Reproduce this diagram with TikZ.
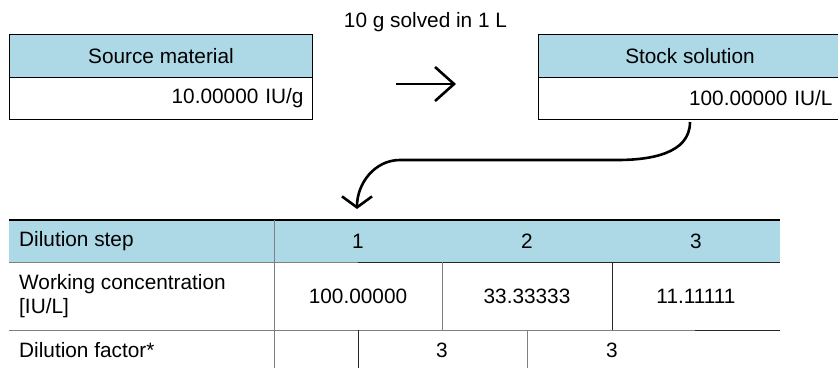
\documentclass[tikz,border=0pt]{standalone}
\usepackage{fontspec}
\setmainfont{Liberation Sans}
\usetikzlibrary{arrows.meta}
\definecolor{hdrblue}{RGB}{173,216,230}
\definecolor{linegray}{RGB}{128,128,128}
\tikzset{
  txt/.style={inner sep=0pt, font=\fontsize{20.8}{24}\selectfont},
  hdrbox/.style={draw=black, line width=1pt, fill=hdrblue, minimum width=303pt, minimum height=43pt, anchor=north west, inner sep=0pt, font=\fontsize{20.8}{24}\selectfont},
  valbox/.style={draw=black, line width=1pt, fill=white, minimum width=303pt, minimum height=42pt, text width=285pt, align=right, anchor=north west, inner sep=0pt, font=\fontsize{20.8}{24}\selectfont},
  glyph/.style={line width=2.6pt, -{Straight Barb[length=19pt,width=34pt]}},
  conn/.style={line width=2.6pt, -{Straight Barb[length=11pt,width=30pt]}},
  grid/.style={line width=1pt, draw=linegray},
  dgrid/.style={line width=1pt, draw=black!85},
}
\begin{document}
\begin{tikzpicture}[x=1pt,y=-1pt]
\useasboundingbox (0,0) rectangle (838,368);
\fill[white] (0,0) rectangle (838,368);
% title
\node[txt] (title) at (425.5,22) {10 g solved in 1 L};
% source material box
\node[hdrbox] (srcH) at (9,34) {Source material};
\node[valbox] (srcV) at (9,77) {10.00000 IU/g};
% stock solution box
\node[hdrbox] (stkH) at (538,34) {Stock solution};
\node[valbox] (stkV) at (538,77) {100.00000 IU/L};
% arrow glyph
\coordinate (arL) at (396,84);
\coordinate (arR) at (456,84);
\draw[glyph] (arL) -- (arR);
% curved arrow
\coordinate (c1) at (690,122);
\coordinate (c2) at (357,209);
\draw[conn] (c1) to[out=-90,in=0] (617,160) -- (400,160) to[out=180,in=90] (c2);
% table
\fill[hdrblue] (9,220) rectangle (780,262);
\draw[line width=1.2pt] (9,220) -- (780,220);
\draw[grid] (9,262) -- (358,262);
\draw[dgrid] (358,262) -- (780,262);
\draw[grid] (9,330) -- (695,330);
\draw[dgrid] (695,330) -- (780,330);
\draw[grid] (274,220) -- (274,368);
\draw[grid] (442,262) -- (442,330);
\draw[dgrid] (612,262) -- (612,330);
\draw[dgrid] (358,330) -- (358,368);
\draw[grid] (527,330) -- (527,368);
% table text
\node[txt, anchor=west] (tL1) at (19,241) {Dilution step};
\node[txt, anchor=west, align=left] (tL2) at (19,296) {Working concentration\\\relax [IU/L]};
\node[txt, anchor=west] (tL3) at (19,350) {Dilution factor*};
\node[txt] (h1) at (358,241) {1};
\node[txt] (h2) at (527,241) {2};
\node[txt] (h3) at (696,241) {3};
\node[txt] (w1) at (358,296) {100.00000};
\node[txt] (w2) at (527,296) {33.33333};
\node[txt] (w3) at (696,296) {11.11111};
\node[txt] (f1) at (442,350) {3};
\node[txt] (f2) at (612,350) {3};
\end{tikzpicture}
\end{document}
